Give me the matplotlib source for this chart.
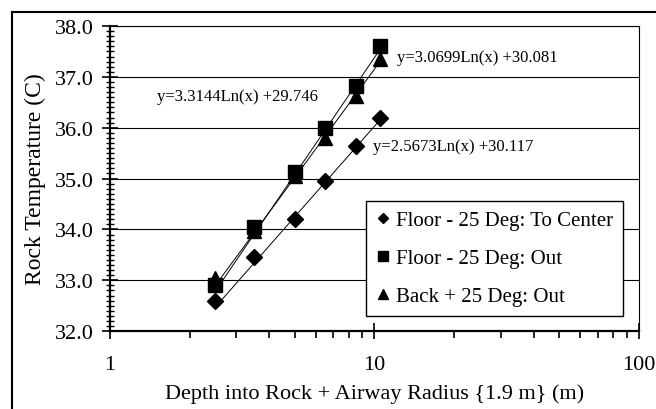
import numpy as np
import matplotlib
matplotlib.use("Agg")
import matplotlib.pyplot as plt
from matplotlib.ticker import FixedLocator, MultipleLocator, NullFormatter

# depth into rock + airway radius (m)
depth = [2.5, 3.5, 5.0, 6.5, 8.5, 10.5]
# rock temperatures (C)
floor_center = [32.6, 33.45, 34.2, 34.95, 35.65, 36.2]
floor_out = [32.9, 34.05, 35.12, 36.0, 36.82, 37.6]
back_out = [33.05, 33.97, 35.05, 35.8, 36.62, 37.35]

# log fits: y = a*Ln(x) + b
fit_center = (2.5673, 30.117)
fit_floor = (3.3144, 29.746)
fit_back = (3.0699, 30.081)

labels = ["Floor - 25 Deg: To Center", "Floor - 25 Deg: Out", "Back + 25 Deg: Out"]

plt.rcParams['font.family'] = ['Liberation Serif', 'DejaVu Serif']

fig = plt.figure(figsize=(6.56, 4.1), dpi=100)
ax = fig.add_axes([0.1677, 0.19, 0.806, 0.744])

xx = np.linspace(depth[0], depth[-1], 50)
for a, b in (fit_center, fit_floor, fit_back):
    ax.plot(xx, a * np.log(xx) + b, color="black", lw=0.7, zorder=2)

ax.plot(depth, floor_center, ls="none", marker="D", ms=8, color="black", label=labels[0], zorder=3)
ax.plot(depth, floor_out, ls="none", marker="s", ms=9.5, color="black", label=labels[1], zorder=3)
ax.plot(depth, back_out, ls="none", marker="^", ms=10, color="black", label=labels[2], zorder=3)

ax.set_xscale("log")
ax.set_xlim(1, 100)
ax.set_ylim(32, 38)
ax.xaxis.set_major_locator(FixedLocator([1, 10, 100]))
ax.set_xticklabels(["1", "10", "100"])
ax.xaxis.set_minor_locator(FixedLocator([k * d for d in (1, 10) for k in range(2, 10)]))
ax.xaxis.set_minor_formatter(NullFormatter())
ax.yaxis.set_major_locator(MultipleLocator(1))
ax.yaxis.set_minor_locator(MultipleLocator(0.1))
ax.yaxis.set_major_formatter(plt.FormatStrFormatter("%.1f"))

ax.tick_params(axis="x", which="major", direction="inout", length=12, width=1.2, labelsize=16, pad=11)
ax.tick_params(axis="x", which="minor", direction="out", length=5, width=1.2)
ax.tick_params(axis="y", which="major", direction="inout", length=12, width=1.2, labelsize=16, pad=6)
ax.tick_params(axis="y", which="minor", direction="inout", length=6, width=1.0)

ax.grid(axis="y", which="major", color="black", lw=0.8)
ax.spines["left"].set_linewidth(1.6)
ax.spines["bottom"].set_linewidth(1.6)
ax.spines["top"].set_linewidth(0.8)
ax.spines["right"].set_linewidth(0.8)

ax.set_xlabel("Depth into Rock + Airway Radius {1.9 m} (m)", fontsize=16, labelpad=7)
ax.set_ylabel("Rock Temperature (C)", fontsize=17, labelpad=6)

ax.text(1.51, 36.63, "y=3.3144Ln(x) +29.746", fontsize=12, va="center")
ax.text(12.2, 37.39, "y=3.0699Ln(x) +30.081", fontsize=12, va="center")
ax.text(9.9, 35.65, "y=2.5673Ln(x) +30.117", fontsize=12, va="center")

leg = ax.legend(loc="lower right", bbox_to_anchor=(0.97, 0.05), fontsize=15, fancybox=False,
                edgecolor="black", framealpha=1, handlelength=0.7, handletextpad=0.3,
                borderpad=0.45, labelspacing=0.9, markerscale=0.7, borderaxespad=0)
leg.get_frame().set_linewidth(1.0)

# outer frame of the chart
fig.add_artist(plt.Line2D([0.018, 0.018], [0.0, 0.968], color="black", lw=1.5))
fig.add_artist(plt.Line2D([0.018, 1.0], [0.968, 0.968], color="black", lw=1.5))

fig.savefig("out.png", dpi=100)
